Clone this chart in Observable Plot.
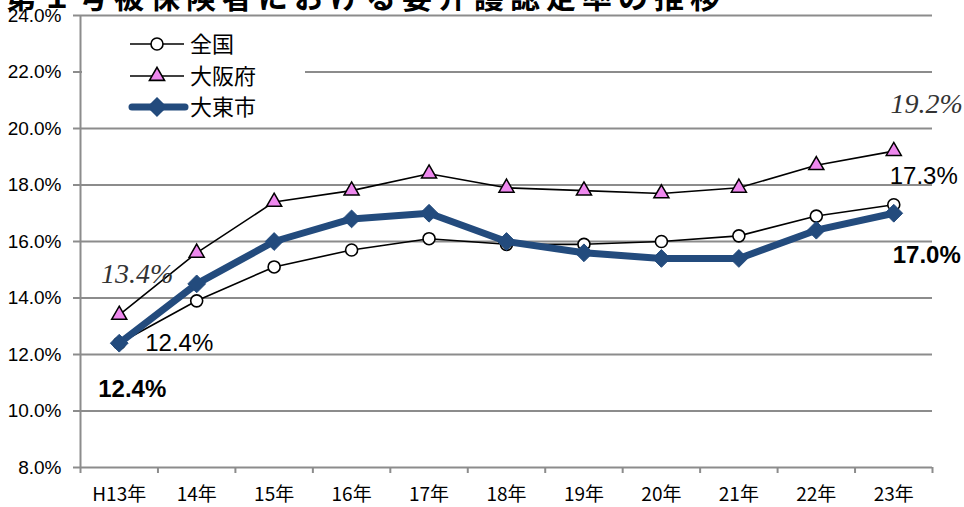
<!DOCTYPE html>
<html><head><meta charset="utf-8">
<script src="https://cdn.jsdelivr.net/npm/d3@7"></script>
<script src="https://cdn.jsdelivr.net/npm/@observablehq/plot@0.6"></script>
<style>
html,body{margin:0;padding:0;background:#fff;overflow:hidden}
#wrap{position:relative;width:964px;height:507px;overflow:hidden}
#title{position:absolute;left:6px;top:-20px;font-weight:bold;font-size:30px;font-family:"Noto Sans CJK JP",sans-serif;letter-spacing:6px;white-space:nowrap;line-height:1;}
#legend{position:absolute;left:82px;top:24px;width:223px;height:98px;background:#fff}
</style></head><body>
<div id="wrap"><div id="chart"></div><div id="legend"></div><div id="title">第１号被保険者における要介護認定率の推移</div></div>
<script>
const years = ["H13年","14年","15年","16年","17年","18年","19年","20年","21年","22年","23年"];
const seriesNames = ["全国","大阪府","大東市"];
const zenkoku = [12.4,13.9,15.1,15.7,16.1,15.9,15.9,16.0,16.2,16.9,17.3];
const osaka   = [13.4,15.6,17.4,17.8,18.4,17.9,17.8,17.7,17.9,18.7,19.2];
const daito   = [12.4,14.5,16.0,16.8,17.0,16.0,15.6,15.4,15.4,16.4,17.0];
const yTicks  = [8,10,12,14,16,18,20,22,24];

const rows = (vals, name) => vals.map((v, i) => ({i, v, name}));
const zen = rows(zenkoku, seriesNames[0]);
const osa = rows(osaka, seriesNames[1]);
const dai = rows(daito, seriesNames[2]);
const pct = v => v.toFixed(1) + "%";

const grid = "#8c8c8c";
const navy = "#234b7d";
const violet = "#ee88ee";
const sans = '"Liberation Sans", sans-serif';
const narrow = '"Liberation Sans Narrow", "Noto Sans CJK JP", sans-serif';
const last = years.length - 1;

const chart = Plot.plot({
  width: 964, height: 507,
  marginLeft: 80, marginRight: 32, marginTop: 15, marginBottom: 40,
  x: {type: "linear", domain: [-0.5, years.length - 0.5], axis: null},
  y: {domain: [8, 24], axis: null},
  style: {background: "#fff", overflow: "visible"},
  marks: [
    Plot.ruleY(yTicks, {stroke: grid, strokeWidth: 2}),
    Plot.ruleX([-0.5], {stroke: grid, strokeWidth: 2}),
    Plot.axisY({ticks: yTicks, anchor: "left", tickSize: 7, tickPadding: 12, label: null,
      tickFormat: pct, stroke: grid, strokeWidth: 2, fill: "#000",
      fontSize: 19, fontFamily: sans}),
    Plot.axisX({ticks: d3.range(years.length + 1).map(k => k - 0.5), tickSize: 6, label: null,
      tickFormat: () => "", stroke: grid, strokeWidth: 2}),
    Plot.axisX({ticks: d3.range(years.length), tickSize: 0, tickPadding: 20, label: null,
      tickFormat: i => years[i], fill: "#000", fontSize: 19, fontFamily: narrow}),
    Plot.line(zen, {x: "i", y: "v", stroke: "#000", strokeWidth: 1.6}),
    Plot.dot(zen, {x: "i", y: "v", r: 6, fill: "#fff", stroke: "#000", strokeWidth: 1.6}),
    Plot.line(osa, {x: "i", y: "v", stroke: "#000", strokeWidth: 1.6}),
    Plot.dot(osa, {x: "i", y: "v", symbol: "triangle", r: 5.6, fill: violet, stroke: "#000", strokeWidth: 1.5}),
    Plot.line(dai, {x: "i", y: "v", stroke: navy, strokeWidth: 7}),
    Plot.dot(dai, {x: "i", y: "v", symbol: "diamond2", r: 8, fill: navy, stroke: navy, strokeWidth: 1}),
    // value labels
    Plot.text([osa[0]], {x: "i", y: "v", text: d => pct(d.v),
      dx: 18, dy: -41, fontSize: 28, fontStyle: "italic",
      fontFamily: '"Liberation Serif", serif', fill: "#333"}),
    Plot.text([osa[last]], {x: "i", y: "v", text: d => pct(d.v),
      dx: 33, dy: -47, fontSize: 28, fontStyle: "italic",
      fontFamily: '"Liberation Serif", serif', fill: "#333"}),
    Plot.text([zen[0]], {x: "i", y: "v", text: d => pct(d.v), dx: 60, dy: 0,
      fontSize: 24, fontFamily: sans, fill: "#000"}),
    Plot.text([zen[last]], {x: "i", y: "v", text: d => pct(d.v), dx: 30, dy: -28,
      fontSize: 24, fontFamily: sans, fill: "#000"}),
    Plot.text([dai[0]], {x: "i", y: "v", text: d => pct(d.v), dx: 13, dy: 46,
      fontSize: 24, fontWeight: "bold", fontFamily: sans, fill: "#000"}),
    Plot.text([dai[last]], {x: "i", y: "v", text: d => pct(d.v), dx: 33, dy: 42,
      fontSize: 24, fontWeight: "bold", fontFamily: sans, fill: "#000"})
  ]
});
document.getElementById("chart").appendChild(chart);

// legend
const lg = d3.select("#legend").append("svg").attr("width", 223).attr("height", 98);
const rowsY = [20, 52, 83];
const lx0 = 48, lx1 = 102, lcx = 75;
seriesNames.forEach((name, k) => {
  const y = rowsY[k];
  const g = lg.append("g");
  if (k < 2) {
    g.append("line").attr("x1", lx0).attr("x2", lx1).attr("y1", y).attr("y2", y)
      .attr("stroke", "#000").attr("stroke-width", 1.6);
  } else {
    g.append("line").attr("x1", lx0 + 2).attr("x2", lx1 + 1).attr("y1", y).attr("y2", y)
      .attr("stroke", navy).attr("stroke-width", 7).attr("stroke-linecap", "round");
  }
  const sym = [d3.symbolCircle, d3.symbolTriangle, d3.symbolDiamond2][k];
  const size = [Math.PI * 36, Math.PI * 5.6 * 5.6, Math.PI * 64][k];
  g.append("path").attr("d", d3.symbol(sym, size)()).attr("transform", `translate(${lcx},${y})`)
    .attr("fill", ["#fff", violet, navy][k]).attr("stroke", ["#000", "#000", navy][k])
    .attr("stroke-width", 1.6);
  g.append("text").attr("x", 108).attr("y", y).attr("dy", "0.36em")
    .attr("font-family", '"Noto Sans CJK JP", sans-serif').attr("font-size", 22)
    .attr("fill", "#000").text(name);
});
</script>
</body></html>
